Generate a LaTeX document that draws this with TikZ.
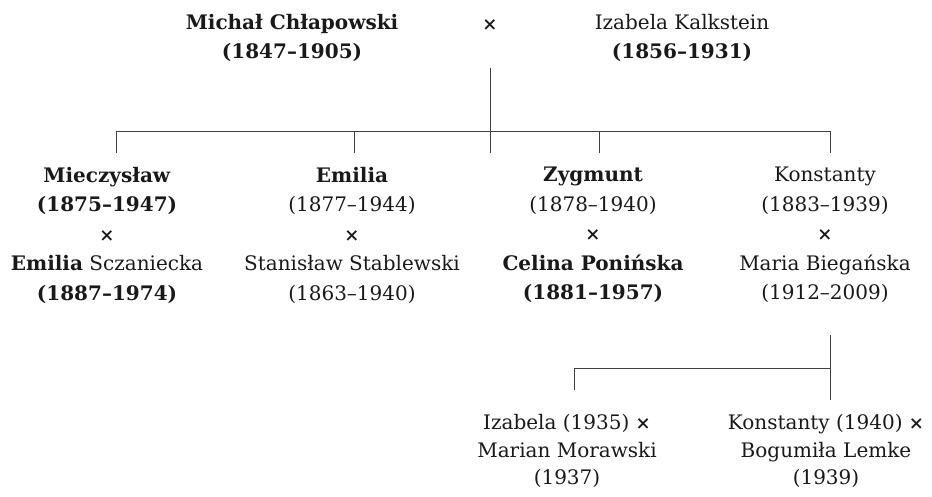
\documentclass[tikz,border=0pt]{standalone}
\usepackage{fontspec}
\setmainfont{DejaVu Serif}
\newcommand{\wed}{{\fontsize{18}{18}\selectfont\bfseries ×}}
\begin{document}
\begin{tikzpicture}[x=1pt,y=-1pt,
  person/.style={align=center,inner sep=0pt,font=\fontsize{20}{29.5}\selectfont,text=black!90},
  child/.style={person,font=\fontsize{20}{27.5}\selectfont},
  line/.style={line width=0.8pt,draw=black!75}]
\useasboundingbox (0,0) rectangle (932,497);
% parents
\node[person] (michal) at (292,38) {\textbf{Michał Chłapowski}\\\textbf{(1847--1905)}};
\node[person] (m0) at (490,25) {\wed};
\node[person] (izabela) at (682,38) {Izabela Kalkstein\\\textbf{(1856--1931)}};
% children
\node[person] (mieczyslaw) at (107,235) {\textbf{Mieczysław}\\\textbf{(1875--1947)}\\\wed\\\textbf{Emilia} Sczaniecka\\\textbf{(1887--1974)}};
\node[person] (emilia) at (352,235) {\textbf{Emilia}\\(1877--1944)\\\wed\\Stanisław Stablewski\\(1863--1940)};
\node[person] (zygmunt) at (593,235) {\textbf{Zygmunt}\\(1878--1940)\\\wed\\\textbf{Celina Ponińska}\\\textbf{(1881--1957)}};
\node[person] (konstanty) at (825,235) {Konstanty\\(1883--1939)\\\wed\\Maria Biegańska\\(1912--2009)};
% grandchildren
\node[child] (izabela2) at (567,451) {Izabela (1935) \wed\\Marian Morawski\\(1937)};
\node[child] (konstanty2) at (826,451) {Konstanty (1940) \wed\\Bogumiła Lemke\\(1939)};
% tree lines
\coordinate (top) at (490,68);
\coordinate (bar) at (490,131);
\coordinate (mid) at (490,153);
\coordinate (d1) at (116,153);
\coordinate (d2) at (354,153);
\coordinate (d3) at (599,153);
\coordinate (d4) at (830,153);
\draw[line] (top) -- (mid);
\draw[line] (d1 |- bar) -- (d4 |- bar);
\foreach \d in {d1,d2,d3,d4}
  \draw[line] (\d |- bar) -- (\d);
\coordinate (k1) at (830,335);
\coordinate (k2) at (830,400);
\coordinate (kbar) at (830,368);
\coordinate (k3) at (574,390);
\draw[line] (k1) -- (k2);
\draw[line] (k3 |- kbar) -- (kbar);
\draw[line] (k3 |- kbar) -- (k3);
\end{tikzpicture}
\end{document}
